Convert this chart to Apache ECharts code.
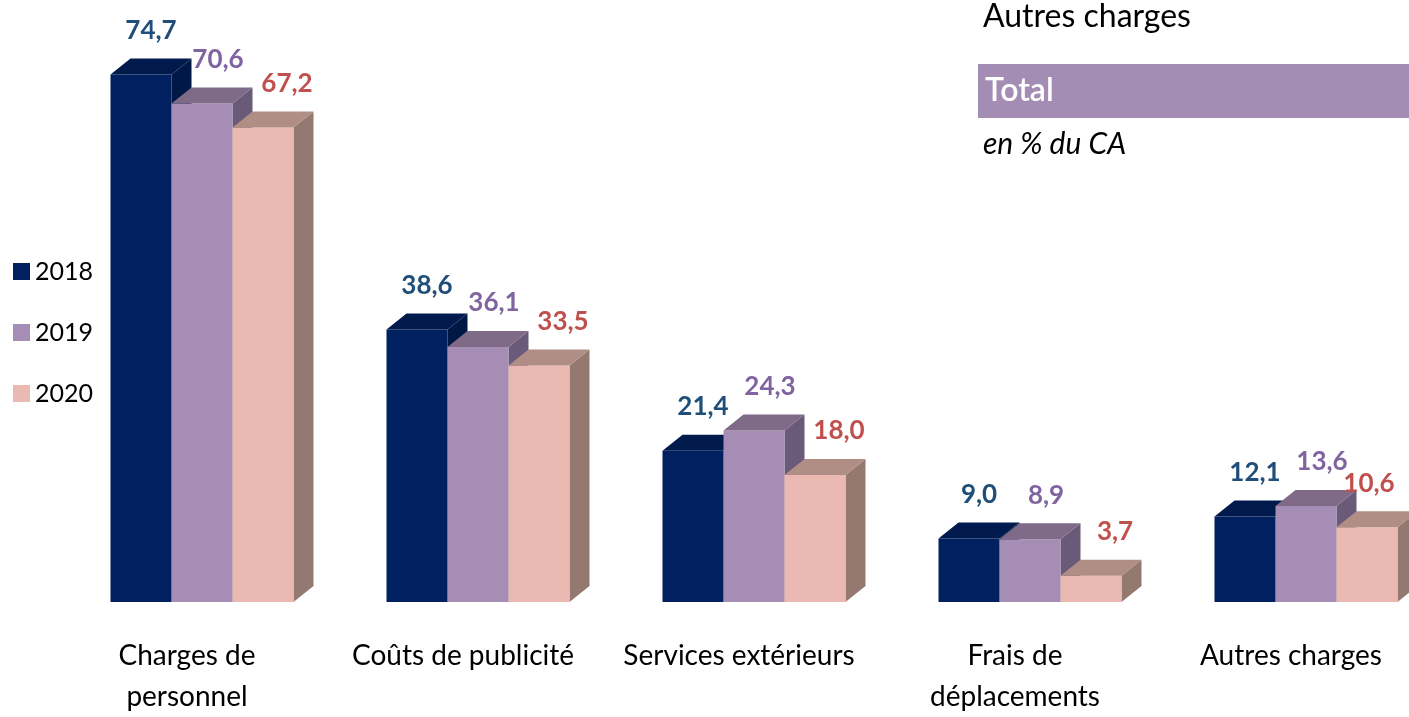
<!DOCTYPE html>
<html>
<head>
<meta charset="utf-8">
<script src="https://cdn.jsdelivr.net/npm/echarts@6/dist/echarts.min.js"></script>
<style>
html, body { margin: 0; padding: 0; background: #fff; }
#chart { width: 1409px; height: 717px; }
</style>
</head>
<body>
<div id="chart"></div>
<script>
// données (en % du CA)
const categories = ['Charges de\npersonnel', 'Coûts de publicité', 'Services extérieurs', 'Frais de\ndéplacements', 'Autres charges']
const years = ['2018', '2019', '2020']
const values2018 = [74.7, 38.6, 21.4, 9.0, 12.1]
const values2019 = [70.6, 36.1, 24.3, 8.9, 13.6]
const values2020 = [67.2, 33.5, 18.0, 3.7, 10.6]

// faces : avant / dessus / côté / étiquette
const palette = [
  { front: '#002060', top: '#001a4d', side: '#001846', label: '#1f4e79', dx: 10 },
  { front: '#a68db5', top: '#7f6a88', side: '#695a79', label: '#8064a2', dx: 16 },
  { front: '#eabab2', top: '#b08e86', side: '#947970', label: '#c0504d', dx: 24 }
]
const allValues = [values2018, values2019, values2020]

const BAR_W = 61
const DEPTH_X = 20
const DEPTH_Y = 16

function makeRender(s) {
  const c = palette[s]
  return function (params, api) {
    const cat = api.value(0)
    const v = api.value(1)
    const top = api.coord([cat, v])
    const base = api.coord([cat, 0])
    const x0 = base[0] + 15 + (s - 1.5) * BAR_W
    const x1 = x0 + BAR_W
    const yT = top[1]
    const yB = base[1]
    // garder l'étiquette dans le cadre
    const labelX = Math.min(x0 + BAR_W / 2 + c.dx, api.getWidth() - 40)
    return {
      type: 'group',
      children: [
        {
          type: 'polygon',
          shape: { points: [[x1, yT], [x1 + DEPTH_X, yT - DEPTH_Y], [x1 + DEPTH_X, yB - DEPTH_Y], [x1, yB]] },
          style: { fill: c.side }
        },
        {
          type: 'rect',
          shape: { x: x0, y: yT, width: BAR_W, height: yB - yT },
          style: { fill: c.front }
        },
        {
          type: 'polygon',
          shape: { points: [[x0, yT], [x0 + DEPTH_X, yT - DEPTH_Y], [x1 + DEPTH_X, yT - DEPTH_Y], [x1, yT]] },
          style: { fill: c.top }
        },
        {
          type: 'text',
          z2: 100,
          style: {
            text: v.toFixed(1).replace('.', ','),
            x: labelX,
            y: yT - DEPTH_Y - 28,
            fill: c.label,
            font: 'bold 26px Lato',
            align: 'center',
            verticalAlign: 'middle'
          }
        }
      ]
    }
  }
}

const chart = echarts.init(document.getElementById('chart'))

const series = years.map((y, s) => ({
  name: y,
  type: 'custom',
  renderItem: makeRender(s),
  itemStyle: { color: palette[s].front },
  encode: { x: 0, y: 1 },
  data: allValues[s].map((v, i) => [i, v])
}))

chart.setOption({
  animation: false,
  grid: { left: 187, right: 118, top: 37, bottom: 109 },
  legend: {
    data: years,
    orient: 'vertical',
    left: 8,
    top: 254,
    icon: 'rect',
    itemWidth: 17,
    itemHeight: 17,
    itemGap: 36,
    textStyle: { fontFamily: 'Lato', fontSize: 25, lineHeight: 24, color: '#000' }
  },
  xAxis: {
    type: 'category',
    data: categories,
    boundaryGap: false,
    axisLine: { show: false },
    axisTick: { show: false },
    axisLabel: {
      margin: 33,
      interval: 0,
      fontFamily: 'Lato',
      fontSize: 28,
      lineHeight: 41,
      color: '#000'
    }
  },
  yAxis: {
    type: 'value',
    min: 0,
    max: 80,
    show: false
  },
  graphic: [
    {
      type: 'text',
      left: 983,
      top: 1,
      style: { text: 'Autres charges', font: '32px Lato', fill: '#000' }
    },
    {
      type: 'rect',
      shape: { x: 978, y: 64, width: 431, height: 54 },
      style: { fill: '#a48db4' }
    },
    {
      type: 'text',
      left: 985,
      top: 75,
      style: { text: 'Total', font: '600 32px Lato', fill: '#fff' }
    },
    {
      type: 'text',
      left: 983,
      top: 129,
      style: { text: 'en % du CA', font: 'italic 30px Lato', fill: '#000' }
    }
  ],
  series: series
})
</script>
</body>
</html>
